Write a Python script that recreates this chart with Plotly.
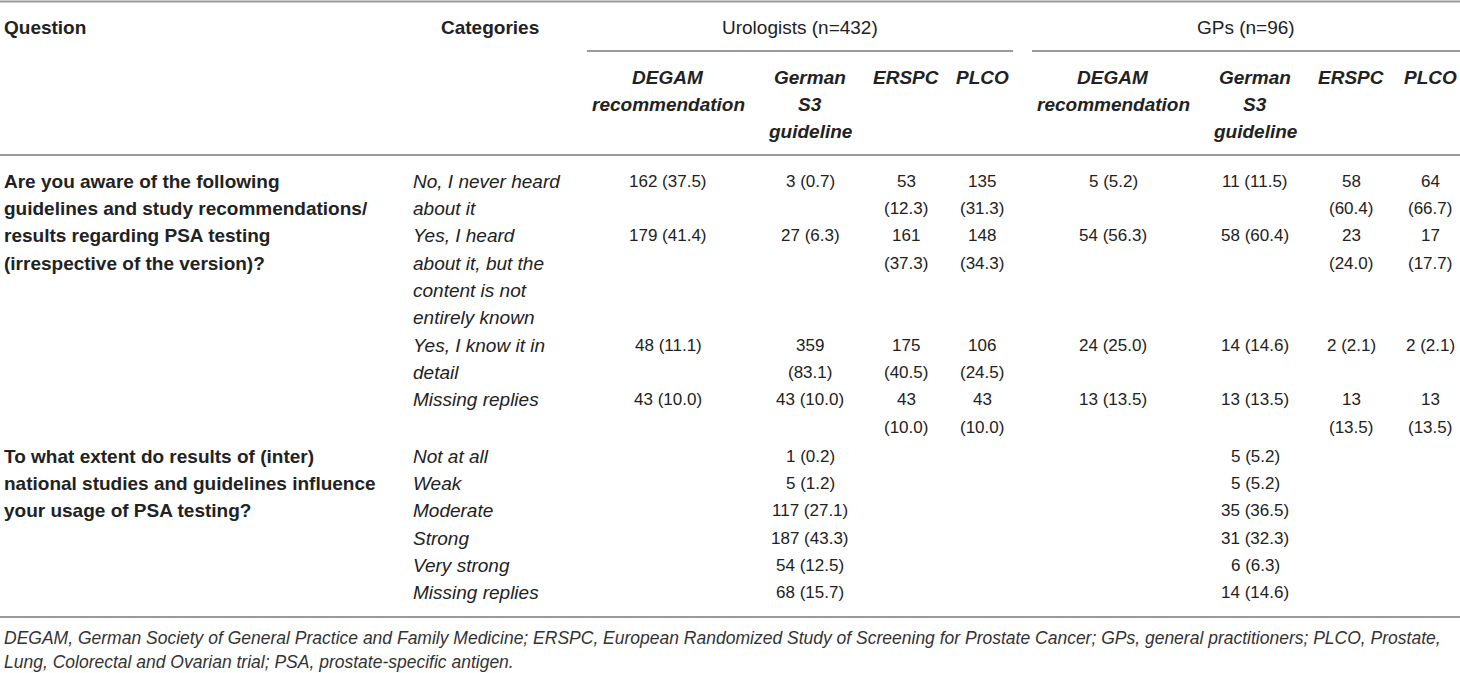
import plotly.graph_objects as go

# ---- table content ----
columns = ["DEGAM", "German S3", "ERSPC", "PLCO"]
col_headers = [["DEGAM", "recommendation"], ["German", "S3", "guideline"], ["ERSPC"], ["PLCO"]]
groups = ["Urologists (n=432)", "GPs (n=96)"]

q1_text = ["Are you aware of the following", "guidelines and study recommendations/",
           "results regarding PSA testing", "(irrespective of the version)?"]
q1_categories = [["No, I never heard", "about it"],
                 ["Yes, I heard", "about it, but the", "content is not", "entirely known"],
                 ["Yes, I know it in", "detail"],
                 ["Missing replies"]]

# urologists, counts and percents per guideline
urol_degam = [162, 179, 48, 43]
urol_degam_pct = [37.5, 41.4, 11.1, 10.0]
urol_s3 = [3, 27, 359, 43]
urol_s3_pct = [0.7, 6.3, 83.1, 10.0]
urol_erspc = [53, 161, 175, 43]
urol_erspc_pct = [12.3, 37.3, 40.5, 10.0]
urol_plco = [135, 148, 106, 43]
urol_plco_pct = [31.3, 34.3, 24.5, 10.0]

# GPs
gp_degam = [5, 54, 24, 13]
gp_degam_pct = [5.2, 56.3, 25.0, 13.5]
gp_s3 = [11, 58, 14, 13]
gp_s3_pct = [11.5, 60.4, 14.6, 13.5]
gp_erspc = [58, 23, 2, 13]
gp_erspc_pct = [60.4, 24.0, 2.1, 13.5]
gp_plco = [64, 17, 2, 13]
gp_plco_pct = [66.7, 17.7, 2.1, 13.5]

q2_text = ["To what extent do results of (inter)", "national studies and guidelines influence",
           "your usage of PSA testing?"]
q2_categories = ["Not at all", "Weak", "Moderate", "Strong", "Very strong", "Missing replies"]
q2_urol = [1, 5, 117, 187, 54, 68]
q2_urol_pct = [0.2, 1.2, 27.1, 43.3, 12.5, 15.7]
q2_gp = [5, 5, 35, 31, 6, 14]
q2_gp_pct = [5.2, 5.2, 36.5, 32.3, 6.3, 14.6]

footnote = ["DEGAM, German Society of General Practice and Family Medicine; ERSPC, European Randomized Study of "
            "Screening for Prostate Cancer; GPs, general practitioners; PLCO, Prostate,",
            "Lung, Colorectal and Ovarian trial; PSA, prostate-specific antigen."]

# ---- layout settings ----
W, H = 1460, 673
FONT = "Liberation Sans"
TXT = "#222222"
RULE = "#9a9a9a"
col_x = [[668, 810, 906, 982], [1113, 1255, 1351, 1430]]
wrap_at = [99, 9, 7, 7]
group_span = [[587, 1013], [1032, 1460]]
cat_x = 411
pitch = 27.35
q1_top, q2_top = 181, 456

fig = go.Figure()
fig.add_trace(go.Scatter(x=[0, W], y=[0, H], mode="markers", marker=dict(opacity=0), hoverinfo="skip"))


def txt(x, y, s, size=17, bold=False, italic=False, anchor="center", color=TXT):
    fig.add_annotation(x=x, y=y, xref="x", yref="y", text=s, showarrow=False,
                       xanchor=anchor, yanchor="middle",
                       font=dict(family=FONT, size=size, color=color,
                                 weight="bold" if bold else "normal",
                                 style="italic" if italic else "normal"))


def rule(x0, x1, y, w=1.8):
    fig.add_shape(type="line", x0=x0, x1=x1, y0=y, y1=y, xref="x", yref="y",
                  line=dict(color=RULE, width=w))


def cell(n, p, limit):
    s = f"{n} ({p:.1f})"
    return [s] if len(s) <= limit else [str(n), f"({p:.1f})"]


# header
txt(2, 27, "Question", 19, bold=True, anchor="left")
txt(490, 27, "Categories", 19, bold=True)
for g, name in enumerate(groups):
    x0, x1 = group_span[g]
    txt((x0 + x1) / 2, 27, name, 19)
    rule(x0, x1, 51)
    for c, lines in enumerate(col_headers):
        for k, line in enumerate(lines):
            txt(col_x[g][c], 77 + k * 27, line, 19, bold=True, italic=True)

rule(0, W, 1.5)
rule(0, W, 155)
rule(0, W, 617)

# first question
for k, line in enumerate(q1_text):
    txt(2, q1_top + k * pitch, line, 19, bold=True, anchor="left")

table = [[(urol_degam, urol_degam_pct), (urol_s3, urol_s3_pct), (urol_erspc, urol_erspc_pct), (urol_plco, urol_plco_pct)],
         [(gp_degam, gp_degam_pct), (gp_s3, gp_s3_pct), (gp_erspc, gp_erspc_pct), (gp_plco, gp_plco_pct)]]

line_no = 0
for r, cat in enumerate(q1_categories):
    used = len(cat)
    for k, line in enumerate(cat):
        txt(cat_x, q1_top + (line_no + k) * pitch, line, 19, italic=True, anchor="left")
    for g in range(2):
        for c in range(4):
            counts, pcts = table[g][c]
            lines = cell(counts[r], pcts[r], wrap_at[c])
            used = max(used, len(lines))
            for k, line in enumerate(lines):
                txt(col_x[g][c], q1_top + (line_no + k) * pitch, line)
    line_no += used

# second question
for k, line in enumerate(q2_text):
    txt(2, q2_top + k * pitch, line, 19, bold=True, anchor="left")
for r, cat in enumerate(q2_categories):
    y = q2_top + r * pitch
    txt(cat_x, y, cat, 19, italic=True, anchor="left")
    txt(col_x[0][1], y, f"{q2_urol[r]} ({q2_urol_pct[r]:.1f})")
    txt(col_x[1][1], y, f"{q2_gp[r]} ({q2_gp_pct[r]:.1f})")

# footnote
for k, line in enumerate(footnote):
    txt(2, 638 + k * 24, line, 17.5, italic=True, anchor="left", color="#333333")

fig.update_layout(width=W, height=H, margin=dict(l=0, r=0, t=0, b=0),
                  paper_bgcolor="white", plot_bgcolor="white", showlegend=False,
                  xaxis=dict(range=[0, W], visible=False),
                  yaxis=dict(range=[H, 0], visible=False))

# page body has a default margin; drop it so the table sits at the window edge
fig.write_html("out.html", config={"displayModeBar": False},
               post_script="document.body.style.margin='0';document.body.style.overflow='hidden';")
